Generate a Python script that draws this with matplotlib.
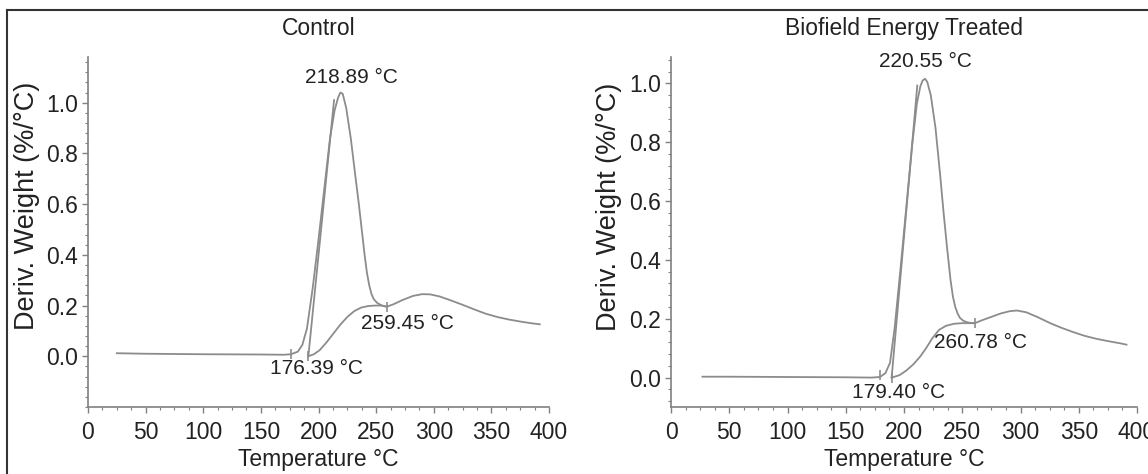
import matplotlib
matplotlib.use("Agg")
import matplotlib.pyplot as plt
from matplotlib.ticker import MultipleLocator, FixedLocator
from matplotlib.lines import Line2D

plt.rcParams['font.family'] = ['Liberation Sans', 'DejaVu Sans']

# ---- Control ----
ctrl_T = [25, 50, 100, 150, 170, 176, 182, 186, 190, 195, 200, 205, 210, 214, 217, 219, 221,
          224, 228, 232, 235, 238, 240, 242, 244, 246, 248, 251, 255, 259, 265, 273, 282, 290,
          297, 305, 315, 325, 335, 345, 355, 365, 375, 385, 392]
ctrl_y = [0.012, 0.010, 0.008, 0.007, 0.006, 0.008, 0.018, 0.045, 0.11, 0.27, 0.46, 0.66,
          0.86, 0.97, 1.02, 1.04, 1.035, 0.98, 0.86, 0.71, 0.60, 0.48, 0.40, 0.33, 0.28, 0.245,
          0.225, 0.21, 0.2, 0.195, 0.205, 0.222, 0.238, 0.245, 0.244, 0.236, 0.22, 0.203,
          0.185, 0.168, 0.155, 0.145, 0.137, 0.13, 0.126]
ctrl_base_T = [191, 196, 201, 207, 213, 219, 225, 231, 237, 243, 249, 255, 259.45]
ctrl_base_y = [0.0, 0.008, 0.024, 0.055, 0.09, 0.125, 0.155, 0.178, 0.192, 0.198, 0.2, 0.2, 0.196]
ctrl_tan_T = [191.2, 213.5]
ctrl_tan_y = [0.0, 1.01]
ctrl_peak, ctrl_onset, ctrl_end = 218.89, 176.39, 259.45

# ---- Biofield Energy Treated ----
trt_T = [27, 50, 100, 150, 172, 179.4, 184, 188, 192, 197, 202, 207, 211, 214, 216, 218, 220,
         223, 227, 231, 234, 237, 240, 242, 244, 246, 248, 251, 255, 260.78, 267, 274, 283,
         291, 297, 305, 315, 325, 334, 345, 355, 365, 375, 385, 391]
trt_y = [0.003, 0.003, 0.002, 0.001, 0.0, 0.002, 0.015, 0.05, 0.17, 0.37, 0.58, 0.79, 0.93,
         0.99, 1.01, 1.016, 1.005, 0.96, 0.85, 0.69, 0.56, 0.44, 0.33, 0.275, 0.24, 0.218,
         0.203, 0.193, 0.187, 0.185, 0.195, 0.205, 0.218, 0.226, 0.228, 0.222, 0.205, 0.186,
         0.171, 0.155, 0.142, 0.132, 0.124, 0.117, 0.112]
trt_base_T = [189.4, 196, 202, 208, 214, 219, 224, 230, 236, 243, 250, 260.78]
trt_base_y = [0.0, 0.008, 0.024, 0.045, 0.072, 0.1, 0.132, 0.162, 0.176, 0.183, 0.185, 0.185]
trt_tan_T = [189.4, 211.4]
trt_tan_y = [0.0, 0.993]
trt_peak, trt_onset, trt_end = 220.55, 179.40, 260.78

yticks = [0.0, 0.2, 0.4, 0.6, 0.8, 1.0]
xticks = [0, 50, 100, 150, 200, 250, 300, 350, 400]

W, H = 1148, 474
fig = plt.figure(figsize=(W / 100, H / 100), dpi=100)
ax1 = fig.add_axes([88 / W, 67 / H, 461 / W, 350 / H])
ax2 = fig.add_axes([671 / W, 67 / H, 466 / W, 350 / H])

curve_c = '#8c8c8c'
spine_c = '#808080'
txt_c = '#222222'


def panel(ax, T, y, bT, by, tT, ty, onset, peak, end, title, ylim,
          peak_xy, onset_xy, end_xy, ylab_y):
    ax.plot(T, y, color=curve_c, lw=1.3)
    ax.plot(bT, by, color=curve_c, lw=1.3)
    ax.plot(tT, ty, color=curve_c, lw=1.3)
    # little marks where the analysis points sit
    ax.plot([onset, tT[0]], [0.008, 0.0], ls='none', marker='|', ms=7, color=curve_c, mew=1.2)
    ax.plot([end], [by[-1]], ls='none', marker='|', ms=7, color=curve_c, mew=1.2)

    for (tx, ty_), val in [(peak_xy, peak), (onset_xy, onset), (end_xy, end)]:
        ax.text(tx, ty_, f"{val:.2f} °C", ha='center', va='center', fontsize=15, color=txt_c)

    ax.set_xlim(0, 400)
    ax.set_ylim(*ylim)
    ax.xaxis.set_major_locator(FixedLocator(xticks))
    ax.xaxis.set_minor_locator(MultipleLocator(12.5))
    ax.yaxis.set_major_locator(FixedLocator(yticks))
    ax.yaxis.set_minor_locator(MultipleLocator(0.04))
    ax.set_yticklabels([f"{v:.1f}" for v in yticks])
    ax.tick_params(which='major', length=4, width=1, color=spine_c, labelsize=16.5,
                   labelcolor=txt_c, pad=3)
    ax.tick_params(which='minor', length=2.5, width=0.8, color=spine_c)
    ax.tick_params(axis='x', pad=6)
    for s in ['top', 'right']:
        ax.spines[s].set_visible(False)
    for s in ['left', 'bottom']:
        ax.spines[s].set_color(spine_c)
        ax.spines[s].set_linewidth(1.2)

    ax.set_title(title, fontsize=16.5, color=txt_c, pad=16)
    ax.set_xlabel("Temperature °C", fontsize=16.5, color=txt_c, labelpad=3)
    ax.set_ylabel("Deriv. Weight (%/°C)", fontsize=19.5, color=txt_c)
    ax.yaxis.set_label_coords(-0.105, ylab_y)


panel(ax1, ctrl_T, ctrl_y, ctrl_base_T, ctrl_base_y, ctrl_tan_T, ctrl_tan_y,
      ctrl_onset, ctrl_peak, ctrl_end, "Control", (-0.2, 1.18),
      (229, 1.10), (198, -0.05), (277, 0.13), 0.574)
panel(ax2, trt_T, trt_y, trt_base_T, trt_base_y, trt_tan_T, trt_tan_y,
      trt_onset, trt_peak, trt_end, "Biofield Energy Treated", (-0.1, 1.09),
      (218, 1.075), (195, -0.05), (266, 0.12), 0.571)

# outer frame lines (left and top) of the original figure
fig.add_artist(Line2D([7 / W, 7 / W], [0, 1 - 10 / H], transform=fig.transFigure,
                      color='#333333', lw=1.5))
fig.add_artist(Line2D([7 / W, 1], [1 - 10 / H, 1 - 10 / H], transform=fig.transFigure,
                      color='#333333', lw=1.5))

fig.savefig("out.png", dpi=100)
